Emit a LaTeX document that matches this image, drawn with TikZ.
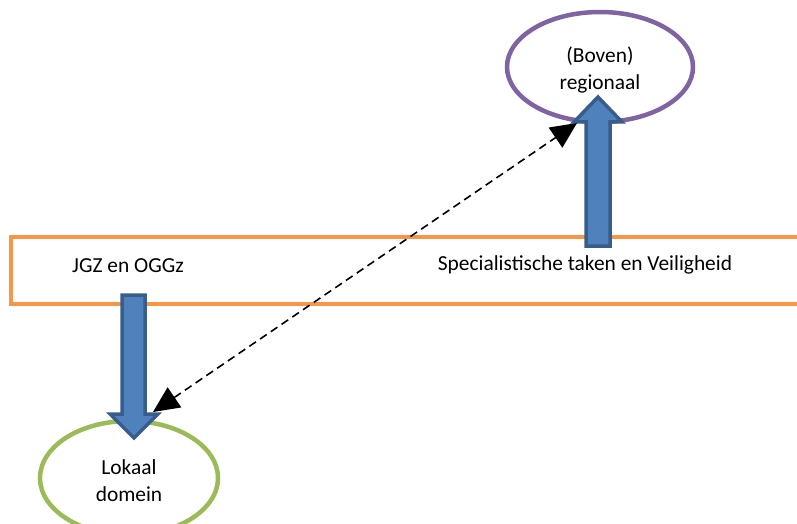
\documentclass[tikz,border=0pt]{standalone}
\usepackage{fontspec}
\setmainfont{Carlito}
\usetikzlibrary{arrows.meta}
\definecolor{orng}{HTML}{F79646}
\definecolor{purp}{HTML}{8064A2}
\definecolor{grn}{HTML}{9BBB59}
\definecolor{bfill}{HTML}{4F81BD}
\definecolor{bdraw}{HTML}{385D8A}
\tikzset{
  lbl/.style={font=\fontsize{21.4}{27}\selectfont, align=center, inner sep=0pt},
  ell/.style={draw, line width=4.5pt},
  blockarrow/.style={fill=bfill, draw=bdraw, line width=3.5pt, line join=miter},
  dasharrow/.style={dashed, dash pattern=on 8pt off 5pt, line width=1.6pt,
     {Triangle[length=26pt,width=24pt]}-{Triangle[length=26pt,width=24pt]}}
}
\begin{document}
\begin{tikzpicture}[x=1pt,y=-1pt]
\useasboundingbox (0,0) rectangle (797,524);
% band
\draw[orng, line width=4.5pt] (830,237) -- (11,237) -- (11,304) -- (830,304);
\node[lbl] (jgz) at (128,266) {JGZ en OGGz};
\node[lbl] (spec) at (585,265) {Specialistische taken en Veiligheid};
% ellipses
\draw[ell, purp] (600,67) ellipse [x radius=93, y radius=55];
\node[lbl] (reg) at (600,70) {(Boven)\\regionaal};
\draw[ell, grn] (129,478) ellipse [x radius=89, y radius=57];
\node[lbl] (lok) at (129,481) {Lokaal\\domein};
% up block arrow
\draw[blockarrow] (586,246) -- (586,122) -- (574,122) -- (598,97) -- (622,122) -- (610,122) -- (610,246) -- cycle;
% down block arrow
\draw[blockarrow] (122,295) -- (122,414) -- (110,414) -- (134,438) -- (158,414) -- (145,414) -- (145,295) -- cycle;
% dashed double arrow
\coordinate (pA) at (153,412);
\coordinate (pB) at (577,123);
\draw[dasharrow] (pA) -- (pB);
\end{tikzpicture}
\end{document}
